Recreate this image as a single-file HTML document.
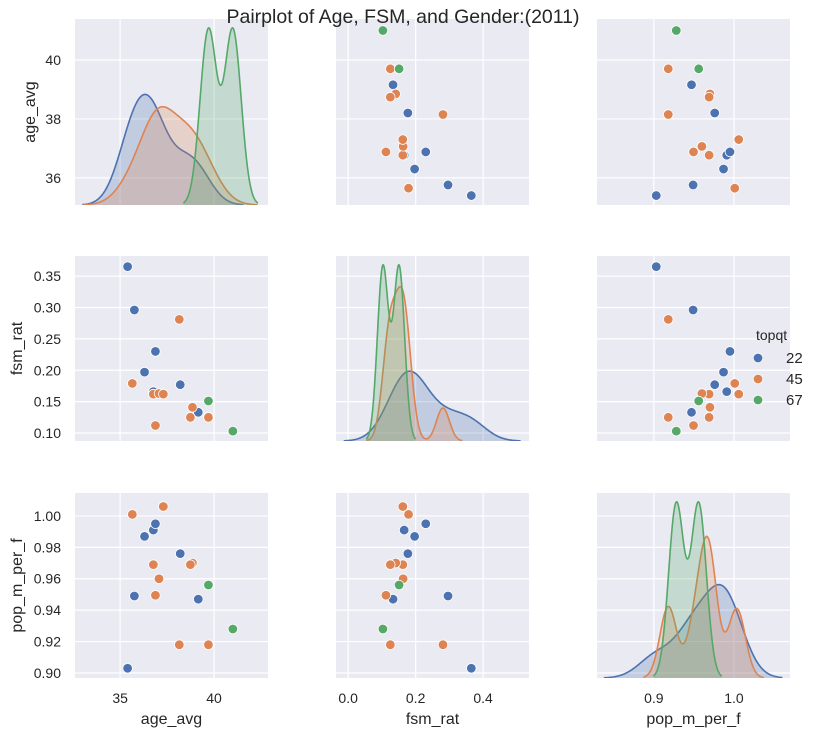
<!DOCTYPE html>
<html><head><meta charset="utf-8"><style>
body{margin:0;background:#fff;}
svg{display:block;font-family:"Liberation Sans",sans-serif;}
</style></head><body>
<svg id="chart" width="816" height="737" xmlns="http://www.w3.org/2000/svg"></svg>
<script>
// ---- data ----
const ageAvg = [35.4, 35.76, 36.3, 36.77, 36.88, 38.2, 39.16, 38.15, 35.65, 36.77, 37.07, 37.3, 38.85, 38.74, 39.7, 36.88, 39.7, 41.0];
const fsmRat = [0.365, 0.296, 0.197, 0.166, 0.230, 0.177, 0.133, 0.281, 0.179, 0.162, 0.163, 0.162, 0.141, 0.125, 0.125, 0.112, 0.151, 0.103];
const popMPerF = [0.903, 0.949, 0.987, 0.991, 0.995, 0.976, 0.947, 0.918, 1.001, 0.969, 0.960, 1.006, 0.970, 0.969, 0.918, 0.9495, 0.956, 0.928];
const topqt = ["22","22","22","22","22","22","22","45","45","45","45","45","45","45","45","45","67","67"];
const hueLevels = ["22","45","67"];
const varNames = ["age_avg","fsm_rat","pop_m_per_f"];
const ageTicks = [35, 40];
const ageYTicks = [36, 38, 40];
const fsmXTicks = [0.0, 0.2, 0.4];
const fsmYTicks = [0.10, 0.15, 0.20, 0.25, 0.30, 0.35];
const popXTicks = [0.9, 1.0];
const popYTicks = [0.90, 0.92, 0.94, 0.96, 0.98, 1.00];

const colors = {"22":"#4C72B0","45":"#DD8452","67":"#55A868"};
const data = [ageAvg, fsmRat, popMPerF];
const domains = [[32.6, 42.87], [-0.036, 0.536], [0.829, 1.07]];
const rowDomains = [[35.08, 41.39], [0.0873, 0.382], [0.8968, 1.0146]];
const colPx = [[75,268],[336,529],[597,790]];
const rowPx = [[19,205],[256,441],[493,678]];
const yLabelX = [35, 22, 22];
const xTicks = [ageTicks, fsmXTicks, popXTicks];
const yTicks = [ageYTicks, fsmYTicks, popYTicks];
const xFmt = [v=>String(v), v=>v.toFixed(1), v=>v.toFixed(1)];
const yFmt = [v=>String(v), v=>v.toFixed(2), v=>v.toFixed(2)];

const NS="http://www.w3.org/2000/svg";
const svg=document.getElementById('chart');
function mk(tag, attrs, parent){const e=document.createElementNS(NS,tag);for(const k in attrs)e.setAttribute(k,attrs[k]);(parent||svg).appendChild(e);return e;}
function xs(c,v){const d=domains[c],p=colPx[c];return p[0]+(v-d[0])/(d[1]-d[0])*(p[1]-p[0]);}
function ys(r,v){const d=rowDomains[r],p=rowPx[r];return p[1]-(v-d[0])/(d[1]-d[0])*(p[1]-p[0]);}

function pct(a,q){const s=[...a].sort((x,y)=>x-y);const pos=(s.length-1)*q;const lo=Math.floor(pos),hi=Math.ceil(pos);return s[lo]+(s[hi]-s[lo])*(pos-lo);}
function kde(vals){
  const n=vals.length,m=vals.reduce((a,b)=>a+b,0)/n;
  const sd=Math.sqrt(vals.reduce((a,b)=>a+(b-m)*(b-m),0)/(n-1));
  const iqr=(pct(vals,0.75)-pct(vals,0.25))/1.349;
  const A=Math.min(sd,iqr>0?iqr:sd);
  const bw=1.059*A*Math.pow(n,-0.2);
  const lo=Math.min(...vals)-3*bw, hi=Math.max(...vals)+3*bw;
  const pts=[];
  for(let i=0;i<=200;i++){const x=lo+(hi-lo)*i/200;let s=0;for(const v of vals){const z=(x-v)/bw;s+=Math.exp(-0.5*z*z);}pts.push([x,s/(n*bw*Math.sqrt(2*Math.PI))]);}
  return pts;
}

for(let r=0;r<3;r++){for(let c=0;c<3;c++){
  const g=mk('g',{});
  
  
  const x0=colPx[c][0],x1=colPx[c][1],y0=rowPx[r][0],y1=rowPx[r][1];
  mk('rect',{x:x0,y:y0,width:x1-x0,height:y1-y0,fill:'#EAEAF2'},g);
  const cid='clip'+r+c;
  const cp=mk('clipPath',{id:cid},g);mk('rect',{x:x0,y:y0,width:x1-x0,height:y1-y0},cp);
  for(const v of xTicks[c]){const x=xs(c,v);mk('line',{x1:x,x2:x,y1:y0,y2:y1,stroke:'#fff','stroke-width':1.2},g);}
  for(const v of yTicks[r]){const y=ys(r,v);mk('line',{x1:x0,x2:x1,y1:y,y2:y,stroke:'#fff','stroke-width':1.2},g);}
  const inner=mk('g',{'clip-path':'url(#'+cid+')'},g);
  if(r===c){
    const curves=hueLevels.map(h=>kde(data[c].filter((v,i)=>topqt[i]===h)));
    let mx=0;curves.forEach(cv=>cv.forEach(p=>{if(p[1]>mx)mx=p[1];}));
    const ymax=mx*1.05;
    const yy=v=>y1-v/ymax*(y1-y0);
    curves.forEach((cv,k)=>{
      const col=colors[hueLevels[k]];
      let d=cv.map((p,i)=>(i?'L':'M')+xs(c,p[0]).toFixed(2)+','+yy(p[1]).toFixed(2)).join('');
      const f=mk('path',{d:d+'L'+xs(c,cv[cv.length-1][0]).toFixed(2)+','+y1+'L'+xs(c,cv[0][0]).toFixed(2)+','+y1+'Z',fill:col,'fill-opacity':0.25,stroke:'none'},inner);
      
      
      const l=mk('path',{d:d,fill:'none',stroke:col,'stroke-width':1.6},inner);
      
      
    });
  } else {
    for(const h of hueLevels){for(let i=0;i<topqt.length;i++){if(topqt[i]!==h)continue;
      const p=mk('circle',{cx:xs(c,data[c][i]),cy:ys(r,data[r][i]),r:4.8,fill:colors[h],stroke:'#fff','stroke-width':0.8},inner);
      
      
    }}
  }
  if(c===0){
    for(const v of yTicks[r]){const tt=mk('text',{x:61,y:ys(r,v)+5,'text-anchor':'end','font-size':14,fill:'#262626'});tt.textContent=yFmt[r](v);
      
      }
    const yl=mk('text',{x:0,y:0,'text-anchor':'middle','font-size':16,fill:'#262626',transform:'translate('+yLabelX[r]+','+((y0+y1)/2)+') rotate(-90)'});
    yl.textContent=varNames[r];
    
    
  }
  if(r===2){
    for(const v of xTicks[c]){const tt=mk('text',{x:xs(c,v),y:703,'text-anchor':'middle','font-size':14,fill:'#262626'});tt.textContent=xFmt[c](v);
      
      }
    const xl=mk('text',{x:(x0+x1)/2,y:724,'text-anchor':'middle','font-size':16,fill:'#262626'});
    xl.textContent=varNames[c];
    
    
  }
}}

// legend
const lg=mk('g',{});


const lt=mk('text',{x:756,y:340,'font-size':14,fill:'#262626'},lg);lt.textContent='topqt';
hueLevels.forEach((h,k)=>{
  const y=358+k*21;
  const e=mk('g',{},lg);
  
  
  mk('circle',{cx:758,cy:y,r:4.8,fill:colors[h],stroke:'#fff','stroke-width':0.8},e);
  const tx=mk('text',{x:786,y:y+5,'font-size':15,fill:'#262626'},e);tx.textContent=h;
});

// title (drawn on top)
const t=mk('text',{x:403,y:23,'text-anchor':'middle','font-size':19.5,fill:'#262626'});


t.textContent='Pairplot of Age, FSM, and Gender:(2011)';
</script>
</body></html>
